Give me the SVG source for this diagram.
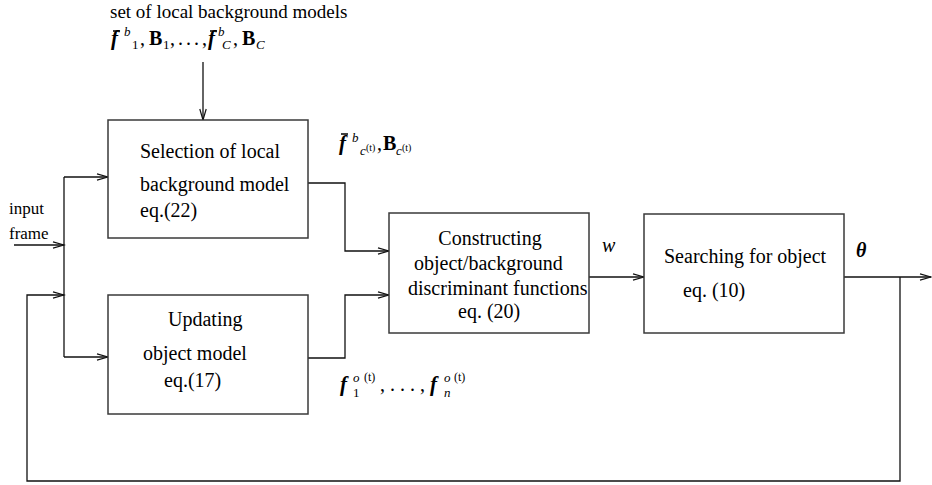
<svg xmlns="http://www.w3.org/2000/svg" width="932" height="485" viewBox="0 0 932 485">
  <defs>
    <marker id="arrow" markerUnits="userSpaceOnUse" markerWidth="14" markerHeight="10" refX="12" refY="4" orient="auto">
      <path d="M1,0.8 L12,4 L1,7.2" fill="none" stroke="#111" stroke-width="1.2"/>
    </marker>
  </defs>
  <style>
    text { font-family: "Liberation Serif", "Times New Roman", serif; fill: #000; }
    .box { fill: #fff; stroke: #3a3a3a; stroke-width: 1.5; }
    .wire { fill: none; stroke: #111; stroke-width: 1.3; }
    .bar { stroke: #000; stroke-width: 1.5; }
    .lbl { font-size: 20px; }
    .small { font-size: 17px; }
    .bi { font-weight: bold; font-style: italic; }
    .b { font-weight: bold; }
    .i { font-style: italic; }
  </style>
  <rect width="932" height="485" fill="#fff"/>

  <!-- connectors -->
  <g id="connectors">
    <!-- background models into selection -->
    <line class="wire" x1="203" y1="62" x2="203" y2="120" marker-end="url(#arrow)"/>
    <!-- input frame into splitter -->
    <line class="wire" x1="14" y1="245" x2="64" y2="245" marker-end="url(#arrow)"/>
    <!-- splitter trunk and branches -->
    <line class="wire" x1="64" y1="177" x2="64" y2="357"/>
    <line class="wire" x1="64" y1="177" x2="108" y2="177" marker-end="url(#arrow)"/>
    <line class="wire" x1="64" y1="357" x2="108" y2="357" marker-end="url(#arrow)"/>
    <!-- selection output -->
    <polyline class="wire" points="308,183 345,183 345,251 389,251" marker-end="url(#arrow)"/>
    <!-- object model output -->
    <polyline class="wire" points="308,358 345,358 345,295 389,295" marker-end="url(#arrow)"/>
    <!-- w -->
    <line class="wire" x1="589" y1="277" x2="644" y2="277" marker-end="url(#arrow)"/>
    <!-- theta out -->
    <line class="wire" x1="844" y1="277" x2="931" y2="277" marker-end="url(#arrow)"/>
    <!-- feedback loop -->
    <polyline class="wire" points="900,277 900,481 27,481 27,295 64,295" marker-end="url(#arrow)"/>
  </g>

  <!-- top label: set of local background models -->
  <g id="bg-models-label">
    <text x="110" y="18" font-size="19">set of local background models</text>
    <text x="111" y="45" class="bi" font-size="21">f</text>
    <line class="bar" x1="113" y1="31" x2="120" y2="31"/>
    <text x="124" y="36" class="i" font-size="13">b</text>
    <text x="132" y="49" font-size="13">1</text>
    <text x="140" y="45" font-size="20">,</text>
    <text x="149" y="45" class="b" font-size="20">B</text>
    <text x="163" y="49" font-size="13">1</text>
    <text x="170" y="45" font-size="20">,</text>
    <text x="178" y="45" font-size="20">.</text>
    <text x="186" y="45" font-size="20">.</text>
    <text x="194" y="45" font-size="20">.</text>
    <text x="202" y="45" font-size="20">,</text>
    <text x="208" y="45" class="bi" font-size="21">f</text>
    <line class="bar" x1="210" y1="31" x2="217" y2="31"/>
    <text x="218" y="36" class="i" font-size="13">b</text>
    <text x="222" y="49" class="i" font-size="13">C</text>
    <text x="233" y="45" font-size="20">,</text>
    <text x="242" y="45" class="b" font-size="20">B</text>
    <text x="256" y="49" class="i" font-size="13">C</text>
  </g>

  <!-- input frame label -->
  <g id="input-label">
    <text class="small" x="9" y="214">input</text>
    <text class="small" x="9" y="239">frame</text>
  </g>

  <g id="selection">
    <rect class="box" x="108" y="120" width="200" height="118"/>
    <text class="lbl" x="140" y="158">Selection of local</text>
    <text class="lbl" x="140" y="191">background model</text>
    <text class="lbl" x="140" y="217">eq.(22)</text>
  </g>

  <g id="updating">
    <rect class="box" x="108" y="295" width="200" height="119"/>
    <text class="lbl" x="168" y="326">Updating</text>
    <text class="lbl" x="143" y="360">object model</text>
    <text class="lbl" x="164" y="387">eq.(17)</text>
  </g>

  <g id="constructing">
    <rect class="box" x="389" y="213" width="200" height="120"/>
    <text class="lbl" x="490" y="245" text-anchor="middle">Constructing</text>
    <text class="lbl" x="414" y="270">object/background</text>
    <text class="lbl" x="408" y="295">discriminant functions</text>
    <text class="lbl" x="458" y="318">eq. (20)</text>
  </g>

  <g id="searching">
    <rect class="box" x="644" y="214" width="200" height="119"/>
    <text class="lbl" x="664" y="263">Searching for object</text>
    <text class="lbl" x="683" y="297">eq. (10)</text>
  </g>

  <!-- selected background model label -->
  <g id="selected-model-label">
    <text x="339" y="150" class="bi" font-size="21">f</text>
    <line class="bar" x1="341" y1="134" x2="348" y2="134"/>
    <text x="352" y="142" class="i" font-size="13">b</text>
    <text x="360" y="155" class="i" font-size="13">c</text>
    <text x="366" y="151" font-size="10">(t)</text>
    <text x="377" y="150" font-size="20">,</text>
    <text x="383" y="150" class="b" font-size="20">B</text>
    <text x="396" y="155" class="i" font-size="13">c</text>
    <text x="402" y="151" font-size="10">(t)</text>
  </g>

  <!-- object model label -->
  <g id="object-model-label">
    <text x="340" y="391" class="bi" font-size="21">f</text>
    <text x="353" y="397" font-size="13">1</text>
    <text x="353" y="382" class="i" font-size="13">o</text>
    <text x="364" y="381" font-size="12">(t)</text>
    <text x="380" y="391" font-size="20">,</text>
    <text x="390" y="391" font-size="20">.</text>
    <text x="400" y="391" font-size="20">.</text>
    <text x="410" y="391" font-size="20">.</text>
    <text x="420" y="391" font-size="20">,</text>
    <text x="430" y="391" class="bi" font-size="21">f</text>
    <text x="444" y="397" class="i" font-size="13">n</text>
    <text x="444" y="382" class="i" font-size="13">o</text>
    <text x="454" y="381" font-size="12">(t)</text>
  </g>

  <g id="w-label">
    <text class="i" x="602" y="252" font-size="20">w</text>
  </g>

  <g id="theta-label">
    <text class="bi" x="856" y="257" font-size="20">θ</text>
  </g>
</svg>
